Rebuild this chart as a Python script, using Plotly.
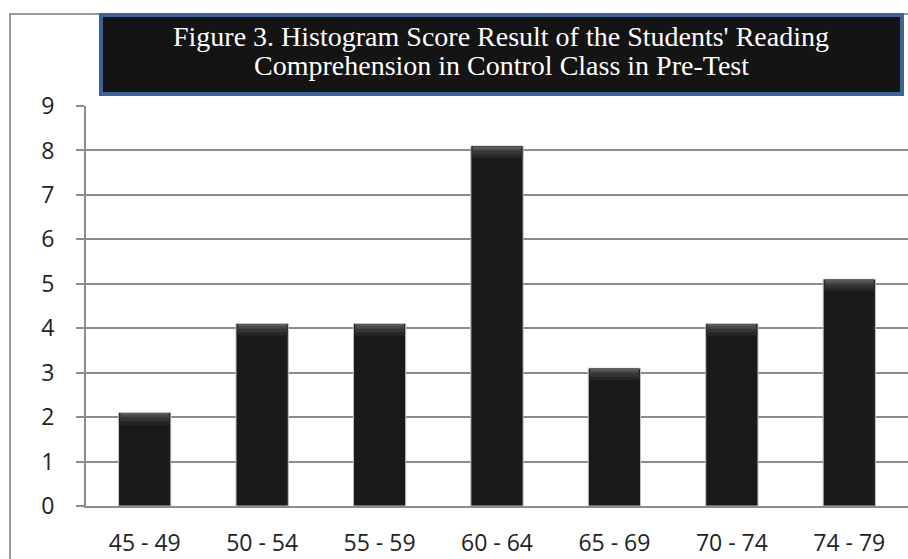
import plotly.graph_objects as go

categories = ["45 - 49", "50 - 54", "55 - 59", "60 - 64", "65 - 69", "70 - 74", "74 - 79"]
counts = [2, 4, 4, 8, 3, 4, 5]
y_ticks = [0, 1, 2, 3, 4, 5, 6, 7, 8, 9]
title_lines = ["Figure 3. Histogram Score Result of the Students' Reading",
               "Comprehension in Control Class in Pre-Test"]

W, H = 908, 559
L, R, T, B = 86, 0, 106, 53
pw, ph = W - L - R, H - T - B

def px(x):
    return (x - L) / pw

def py(y):
    return (H - B - y) / ph

fig = go.Figure()
fig.add_trace(go.Bar(
    x=categories, y=[c + 0.1 for c in counts], width=0.445,
    marker=dict(color="#1a1a1a", line=dict(color="#c0c0c0", width=1)),
    showlegend=False, hoverinfo="skip",
))
# bevel highlight at top of each bar (gradient imitation)
for h, w, col in [(0.26, 0.43, "#262626"), (0.18, 0.42, "#353535"), (0.1, 0.415, "#474747"), (0.04, 0.41, "#5a5a5a")]:
    fig.add_trace(go.Bar(
        x=categories, y=[h] * len(counts), base=[c + 0.09 - h for c in counts], width=w,
        marker=dict(color=col, line=dict(width=0)),
        showlegend=False, hoverinfo="skip",
    ))

fig.update_layout(
    width=W, height=H,
    margin=dict(l=L, r=R, t=T, b=B),
    paper_bgcolor="white", plot_bgcolor="white",
    barmode="overlay",
    font=dict(family="Open Sans", size=23, color="#222"),
    xaxis=dict(showline=True, linecolor="#8c8c8c", linewidth=2, ticks="",
               ticklabelstandoff=15, tickfont=dict(size=23, color="#222"),
               showgrid=False, zeroline=False),
    yaxis=dict(range=[0, 9], tickvals=y_ticks, showline=True, linecolor="#8c8c8c", linewidth=2,
               ticks="outside", ticklen=8, tickcolor="#8c8c8c", tickwidth=2,
               showgrid=True, gridcolor="#8c8c8c", gridwidth=2, zeroline=False,
               ticklabelstandoff=17, tickfont=dict(size=23, color="#222")),
    shapes=[
        dict(type="rect", xref="paper", yref="paper",
             x0=px(10), x1=px(W + 20), y0=py(H + 20), y1=py(14),
             line=dict(color="#9a9a9a", width=2), fillcolor="rgba(0,0,0,0)", layer="below"),
        dict(type="rect", xref="paper", yref="paper",
             x0=px(101), x1=px(902), y0=py(94), y1=py(15),
             line=dict(color="#3d6296", width=4), fillcolor="#141414", layer="above"),
    ],
    annotations=[
        dict(text=title_lines[0], xref="paper", yref="paper",
             x=px(501), y=py(37), xanchor="center", yanchor="middle", showarrow=False,
             font=dict(family="Liberation Serif", size=28, color="white")),
        dict(text=title_lines[1], xref="paper", yref="paper",
             x=px(501), y=py(66), xanchor="center", yanchor="middle", showarrow=False,
             font=dict(family="Liberation Serif", size=28, color="white")),
    ],
)

fig.write_html("out.html")
